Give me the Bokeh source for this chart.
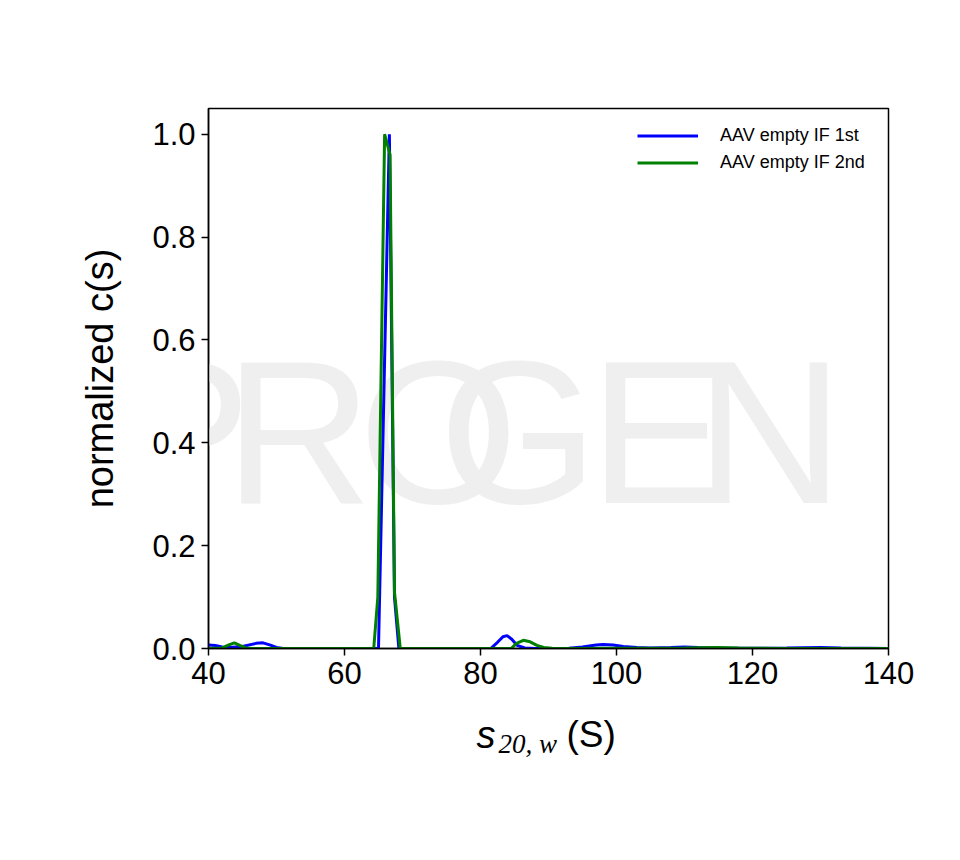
from bokeh.plotting import figure
from bokeh.layouts import column
from bokeh.models import Range1d, FixedTicker, Label, Legend, LegendItem
from bokeh.core.properties import value
from bokeh.embed import file_html
from bokeh.resources import INLINE

# ---- data ----
series_names = ["AAV empty IF 1st", "AAV empty IF 2nd"]

s_1st = [40, 41, 42, 43, 44, 45, 46, 47, 48, 49, 50, 51,
         65.0, 66.6, 67.35, 68.0,
         81.5, 82.5, 83.3, 83.9, 84.6, 85.4, 86.5, 88,
         93, 95, 97, 98, 99.5, 101, 103, 105, 108, 110, 112, 115,
         120, 125, 130, 133, 137, 140]
c_1st = [0.007, 0.006, 0.003, 0.002, 0.003, 0.004, 0.007, 0.010, 0.011, 0.007, 0.002, 0.0,
         0.0, 1.0, 0.10, 0.0,
         0.0, 0.012, 0.023, 0.025, 0.018, 0.006, 0.001, 0.0,
         0.0005, 0.003, 0.007, 0.008, 0.007, 0.004, 0.002, 0.001, 0.002, 0.003, 0.002, 0.001,
         0.0005, 0.001, 0.002, 0.001, 0.0005, 0.0]

s_2nd = [40, 42, 43, 43.8, 44.6, 45.5, 46.5,
         64.3, 64.9, 65.9, 66.7, 67.35, 68.2,
         84.5, 85.3, 86.3, 87.3, 88.3, 89.3, 90.5, 92,
         100, 110, 115, 118, 125, 140]
c_2nd = [0.0, 0.001, 0.007, 0.011, 0.006, 0.001, 0.0,
         0.0, 0.10, 1.0, 0.96, 0.11, 0.0,
         0.0, 0.010, 0.016, 0.013, 0.006, 0.002, 0.0005, 0.0,
         0.0005, 0.001, 0.002, 0.001, 0.0, 0.0]

x_ticks = [40, 60, 80, 100, 120, 140]
y_ticks = [0.0, 0.2, 0.4, 0.6, 0.8, 1.0]
watermark_letters = ["P", "R", "O", "G", "E", "N"]

# ---- layout sizes ----
BL, BT, BR, BB = 208, 108, 40, 60
FW, FH = 680, 540
W = BL + FW + BR

p = figure(frame_width=FW, frame_height=FH,
           min_border_left=BL, min_border_right=BR,
           min_border_top=BT, min_border_bottom=BB,
           x_range=Range1d(40, 140), y_range=Range1d(0, 1.05),
           output_backend="svg", toolbar_location=None)

p.grid.visible = False
p.outline_line_color = "black"
p.outline_line_width = 1.5
p.background_fill_color = "white"
p.border_fill_color = "white"

# watermark (screen units relative to the frame; label is centred on its anchor)
wm_x = [-26, 90, 230, 310, 449, 561]
for letter, xx in zip(watermark_letters, wm_x):
    p.add_layout(Label(x=xx, y=217, x_units="screen", y_units="screen", text=letter,
                       text_font="Liberation Sans", text_font_size="205px",
                       text_color="#efefef", text_align="center",
                       text_baseline="middle", level="underlay"))

r1 = p.line(s_1st, c_1st, line_color="#0000ff", line_width=3)
r2 = p.line(s_2nd, c_2nd, line_color="#008000", line_width=3)

for ax in (p.xaxis[0], p.yaxis[0]):
    ax.axis_line_color = "black"
    ax.axis_line_width = 1.5
    ax.major_tick_line_color = "black"
    ax.major_tick_line_width = 1.5
    ax.major_tick_out = 7
    ax.major_tick_in = 0
    ax.minor_tick_line_color = None
    ax.major_label_text_font = "Liberation Sans"
    ax.major_label_text_font_size = "31px"
    ax.major_label_text_color = "black"
    ax.major_label_standoff = 6

p.xaxis.ticker = FixedTicker(ticks=x_ticks)
p.yaxis.ticker = FixedTicker(ticks=y_ticks)
p.yaxis.major_label_overrides = {t: f"{t:.1f}" for t in y_ticks}

p.yaxis.axis_label = "normalized c(s)"
p.yaxis.axis_label_text_font = "Liberation Sans"
p.yaxis.axis_label_text_font_style = "normal"
p.yaxis.axis_label_text_font_size = "38px"
p.yaxis.axis_label_standoff = 28
p.yaxis.axis_label_text_color = "black"

legend = Legend(items=[LegendItem(label=series_names[0], renderers=[r1]),
                       LegendItem(label=series_names[1], renderers=[r2])],
                location=(421, 464), margin=0, padding=8, spacing=0,
                glyph_width=61, glyph_height=27, label_height=27,
                label_standoff=22, label_text_font="Liberation Sans",
                label_text_font_size="18px", label_text_color="black",
                border_line_alpha=0, background_fill_alpha=0)
p.add_layout(legend)

# ---- x-axis title strip: s (italic) + subscript "20, w" (serif italic) + "(S)" ----
# The strip's frame is aligned with the main frame, so its x range maps page pixels.
QH = 100
q = figure(frame_width=FW, frame_height=QH, min_border=0,
           min_border_left=BL, min_border_right=BR,
           x_range=Range1d(BL, BL + FW), y_range=Range1d(0, QH),
           x_axis_type=None, y_axis_type=None, output_backend="svg", toolbar_location=None)
q.grid.visible = False
q.outline_line_color = None
q.background_fill_color = "white"
q.border_fill_color = "white"
q.text(x=[476], y=[74], text=["s"], text_font=value("Liberation Sans"),
       text_font_style="italic", text_font_size="38px", text_color="black",
       text_baseline="alphabetic")
q.text(x=[498], y=[65], text=["20, w"], text_font=value("Liberation Serif"),
       text_font_style="italic", text_font_size="27px", text_color="black",
       text_baseline="alphabetic")
q.text(x=[566], y=[74], text=["(S)"], text_font=value("Liberation Sans"),
       text_font_size="37px", text_color="black", text_baseline="alphabetic")

layout = column(p, q, spacing=0)
open("out.html", "w").write(file_html(layout, INLINE))
